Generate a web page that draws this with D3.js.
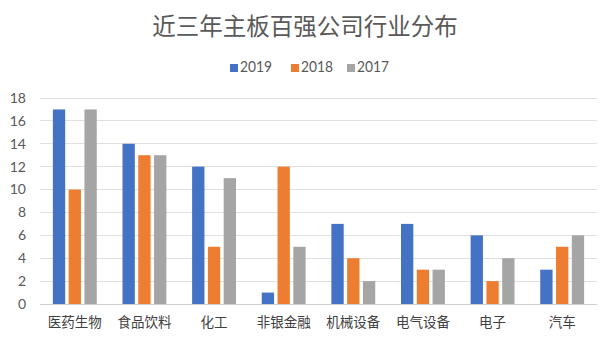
<!DOCTYPE html>
<html><head><meta charset="utf-8">
<script src="https://cdn.jsdelivr.net/npm/d3@7"></script>
<style>body{margin:0;background:#fff;} text{font-family:"Noto Sans CJK SC","Microsoft YaHei",sans-serif;}</style>
</head><body>
<svg id="c" width="613" height="343"></svg>
<script>
const categories = ["医药生物","食品饮料","化工","非银金融","机械设备","电气设备","电子","汽车"];
const seriesNames = ["2019","2018","2017"];
const s2019 = [17,14,12,1,7,7,6,3];
const s2018 = [10,13,5,12,4,3,2,5];
const s2017 = [17,13,11,5,2,3,4,6];
const yTicks = [0,2,4,6,8,10,12,14,16,18];
const colors = ["#4472C4","#ED7D31","#A5A5A5"];
const series = [s2019,s2018,s2017];

const svg = d3.select("#c");
const W=613,H=343;
const m={left:40,right:16,top:98,bottom:39};
const x = d3.scaleBand().domain(categories).range([m.left,W-m.right]).paddingInner(0.37).paddingOuter(0.185);
const x1 = d3.scaleBand().domain(seriesNames).range([0,x.bandwidth()]).paddingInner(0.22);
const y = d3.scaleLinear().domain([0,18]).range([H-m.bottom,m.top]);

// grid
svg.append("g").selectAll("line").data(yTicks).join("line")
 .attr("x1",m.left).attr("x2",W-m.right)
 .attr("y1",d=>y(d)).attr("y2",d=>y(d))
 .attr("stroke",d=>d===0?"#d0d0d0":"#e0e0e0").attr("stroke-width",1).attr("shape-rendering","crispEdges");

// y labels
svg.append("g").selectAll("text").data(yTicks).join("text")
 .attr("x",26).attr("y",d=>y(d)).attr("dy","0.35em").attr("text-anchor","end")
 .attr("font-size",14).attr("fill","#595959").style("font-family","Lato, 'DejaVu Sans', sans-serif").text(d=>d);

// bars
const g = svg.append("g");
series.forEach((vals,si)=>{
  g.append("g").selectAll("rect").data(vals).join("rect")
   .attr("x",(d,i)=>x(categories[i])+x1(seriesNames[si]))
   .attr("width",x1.bandwidth())
   .attr("y",d=>y(d)).attr("height",d=>y(0)-y(d))
   .attr("fill",colors[si]);
});

// x labels
svg.append("g").selectAll("text").data(categories).join("text")
 .attr("x",d=>x(d)+x.bandwidth()/2).attr("y",327).attr("text-anchor","middle")
 .attr("font-size",13.5).attr("fill","#404040").text(d=>d);

// title
svg.append("text").attr("x",305).attr("y",35).attr("text-anchor","middle")
 .attr("font-size",23.5).attr("fill","#595959").text("近三年主板百强公司行业分布");

// legend
const lx=[230,291,347];
seriesNames.forEach((n,i)=>{
  svg.append("rect").attr("x",lx[i]).attr("y",64).attr("width",8).attr("height",8).attr("fill",colors[i]);
  svg.append("text").attr("x",lx[i]+10).attr("y",72).attr("font-size",16).attr("fill","#595959")
   .attr("textLength",32).attr("lengthAdjust","spacingAndGlyphs")
   .style("font-family","Lato, 'DejaVu Sans', sans-serif").text(n);
});
</script>
</body></html>
